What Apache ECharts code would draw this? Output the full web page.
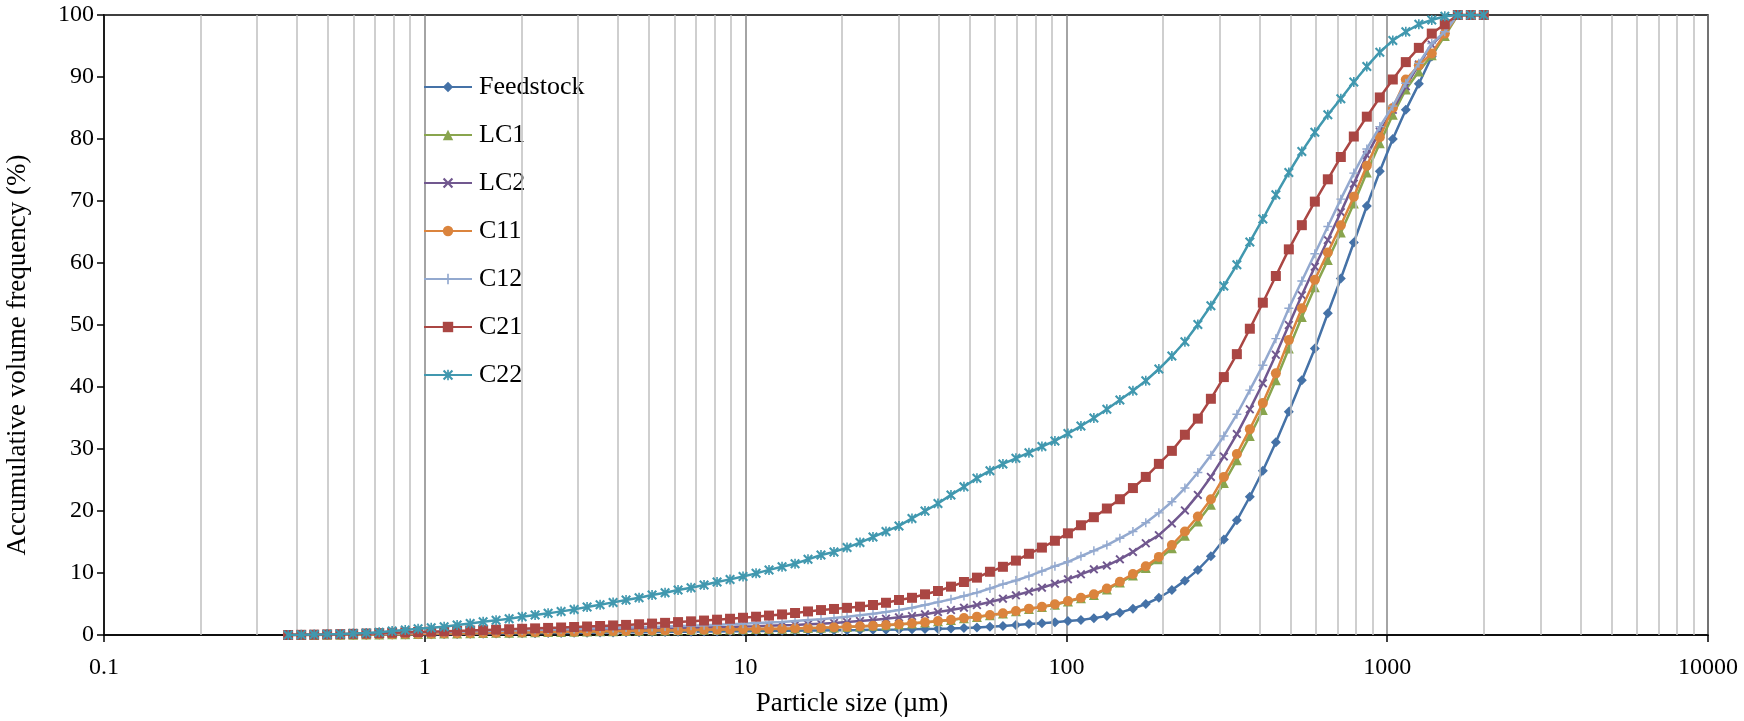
<!DOCTYPE html>
<html>
<head>
<meta charset="utf-8">
<title>Particle size distribution</title>
<script src="https://cdn.jsdelivr.net/npm/echarts@6/dist/echarts.min.js"></script>
<style>
  html, body { margin: 0; padding: 0; background: #fff; }
  #chart { width: 1744px; height: 721px; }
</style>
</head>
<body>
<div id="chart"></div>
<script>
// Channel sizes of the particle size analyser (µm)
const sizes = [
  0.375, 0.412, 0.452, 0.496, 0.545, 0.598, 0.657, 0.721, 0.791, 0.869,
  0.953, 1.047, 1.149, 1.261, 1.385, 1.520, 1.668, 1.832, 2.011, 2.207,
  2.423, 2.660, 2.920, 3.205, 3.519, 3.863, 4.240, 4.655, 5.110, 5.610,
  6.158, 6.760, 7.421, 8.147, 8.943, 9.817, 10.78, 11.83, 12.99, 14.26,
  15.65, 17.18, 18.86, 20.71, 22.73, 24.95, 27.39, 30.07, 33.01, 36.24,
  39.78, 43.67, 47.94, 52.62, 57.77, 63.41, 69.61, 76.42, 83.89, 92.09,
  101.1, 111.0, 121.8, 133.7, 146.8, 161.2, 176.8, 194.2, 213.2, 234.1,
  256.9, 282.1, 309.6, 339.9, 373.1, 409.6, 449.7, 493.6, 541.9, 594.9,
  653.0, 716.9, 786.9, 863.9, 948.3, 1041, 1143, 1255, 1377, 1512,
  1660, 1822, 2000
];

// Accumulative volume frequency (%) per sample
const feedstock = [
  0.00, 0.01, 0.02, 0.03, 0.04, 0.05, 0.06, 0.07, 0.08, 0.10,
  0.12, 0.14, 0.16, 0.18, 0.20, 0.22, 0.24, 0.26, 0.28, 0.30,
  0.32, 0.34, 0.36, 0.38, 0.40, 0.42, 0.44, 0.46, 0.48, 0.50,
  0.52, 0.54, 0.56, 0.58, 0.60, 0.62, 0.64, 0.66, 0.68, 0.70,
  0.72, 0.74, 0.76, 0.78, 0.80, 0.83, 0.86, 0.89, 0.93, 0.97,
  1.01, 1.06, 1.12, 1.20, 1.32, 1.45, 1.60, 1.76, 1.88, 2.04,
  2.24, 2.42, 2.72, 3.08, 3.60, 4.25, 5.00, 6.00, 7.26, 8.77,
  10.5, 12.7, 15.4, 18.5, 22.3, 26.5, 31.1, 36.0, 41.1, 46.2,
  51.9, 57.5, 63.3, 69.2, 74.8, 80.0, 84.7, 88.9, 93.3, 97.0,
  100, 100, 100
];
const lc1 = [
  0.00, 0.01, 0.02, 0.03, 0.04, 0.06, 0.08, 0.10, 0.12, 0.14,
  0.17, 0.20, 0.23, 0.26, 0.29, 0.32, 0.35, 0.38, 0.41, 0.44,
  0.47, 0.50, 0.53, 0.56, 0.59, 0.62, 0.65, 0.68, 0.71, 0.74,
  0.77, 0.80, 0.83, 0.86, 0.89, 0.92, 0.95, 0.98, 1.01, 1.06,
  1.11, 1.16, 1.22, 1.31, 1.38, 1.48, 1.58, 1.70, 1.85, 2.01,
  2.22, 2.43, 2.70, 2.92, 3.19, 3.46, 3.82, 4.19, 4.51, 4.88,
  5.40, 5.92, 6.46, 7.35, 8.45, 9.60, 10.8, 12.2, 14.0, 16.0,
  18.3, 21.0, 24.5, 28.2, 32.1, 36.3, 41.1, 46.2, 51.3, 56.1,
  60.5, 64.9, 69.6, 74.6, 79.3, 83.9, 88.0, 90.9, 93.5, 96.6,
  100, 100, 100
];
const lc2 = [
  0.00, 0.02, 0.04, 0.06, 0.09, 0.12, 0.15, 0.18, 0.22, 0.26,
  0.30, 0.34, 0.38, 0.42, 0.46, 0.50, 0.54, 0.58, 0.62, 0.66,
  0.70, 0.74, 0.78, 0.82, 0.86, 0.90, 0.94, 0.98, 1.02, 1.06,
  1.10, 1.15, 1.20, 1.25, 1.30, 1.36, 1.42, 1.49, 1.56, 1.61,
  1.72, 1.83, 1.94, 2.10, 2.26, 2.42, 2.63, 2.85, 3.06, 3.33,
  3.70, 4.03, 4.40, 4.84, 5.32, 5.86, 6.40, 7.00, 7.63, 8.28,
  8.98, 9.78, 10.6, 11.2, 12.2, 13.4, 14.8, 16.1, 18.0, 20.1,
  22.6, 25.5, 28.8, 32.4, 36.4, 40.6, 45.2, 50.0, 54.8, 59.4,
  63.7, 68.2, 72.8, 77.4, 81.2, 84.7, 88.5, 92.0, 95.2, 97.3,
  100, 100, 100
];
const c11 = [
  0.00, 0.01, 0.02, 0.04, 0.05, 0.07, 0.09, 0.11, 0.13, 0.15,
  0.18, 0.21, 0.24, 0.27, 0.30, 0.33, 0.36, 0.39, 0.42, 0.45,
  0.48, 0.51, 0.54, 0.57, 0.60, 0.63, 0.66, 0.69, 0.72, 0.75,
  0.78, 0.81, 0.84, 0.87, 0.90, 0.93, 0.96, 0.99, 1.02, 1.08,
  1.13, 1.18, 1.24, 1.34, 1.40, 1.50, 1.60, 1.72, 1.88, 2.04,
  2.26, 2.47, 2.74, 2.96, 3.23, 3.50, 3.87, 4.25, 4.57, 4.95,
  5.48, 6.00, 6.56, 7.50, 8.60, 9.84, 11.1, 12.6, 14.5, 16.7,
  19.1, 21.9, 25.5, 29.2, 33.2, 37.4, 42.2, 47.6, 52.7, 57.3,
  61.7, 66.1, 70.7, 75.7, 80.3, 85.0, 89.6, 91.9, 93.8, 97.0,
  100, 100, 100
];
const c12 = [
  0.00, 0.02, 0.05, 0.08, 0.11, 0.15, 0.19, 0.23, 0.28, 0.33,
  0.38, 0.43, 0.48, 0.53, 0.58, 0.63, 0.68, 0.73, 0.78, 0.83,
  0.88, 0.93, 0.98, 1.03, 1.08, 1.13, 1.19, 1.25, 1.31, 1.37,
  1.44, 1.51, 1.58, 1.66, 1.74, 1.83, 1.92, 2.01, 2.10, 2.26,
  2.42, 2.53, 2.74, 2.96, 3.17, 3.44, 3.70, 4.03, 4.40, 4.84,
  5.30, 5.75, 6.30, 6.83, 7.50, 8.20, 8.80, 9.50, 10.3, 11.1,
  11.8, 12.7, 13.6, 14.5, 15.6, 16.7, 18.1, 19.7, 21.5, 23.7,
  26.2, 29.0, 32.1, 35.6, 39.5, 43.5, 47.8, 52.7, 57.1, 61.5,
  65.9, 70.3, 74.5, 78.4, 82.0, 85.3, 89.0, 92.2, 95.4, 97.3,
  100, 100, 100
];
const c21 = [
  0.00, 0.03, 0.06, 0.10, 0.14, 0.19, 0.24, 0.30, 0.36, 0.42,
  0.48, 0.54, 0.60, 0.66, 0.72, 0.79, 0.86, 0.93, 1.00, 1.07,
  1.14, 1.21, 1.29, 1.37, 1.45, 1.54, 1.63, 1.73, 1.84, 1.96,
  2.08, 2.20, 2.33, 2.47, 2.62, 2.78, 2.95, 3.13, 3.32, 3.55,
  3.80, 4.02, 4.20, 4.38, 4.57, 4.84, 5.20, 5.65, 6.00, 6.56,
  7.10, 7.80, 8.55, 9.25, 10.2, 11.0, 12.0, 13.1, 14.1, 15.2,
  16.4, 17.7, 19.0, 20.4, 21.9, 23.7, 25.5, 27.6, 29.7, 32.3,
  34.9, 38.1, 41.6, 45.3, 49.4, 53.6, 57.9, 62.2, 66.1, 69.9,
  73.5, 77.1, 80.4, 83.6, 86.7, 89.6, 92.4, 94.7, 97.0, 98.5,
  100, 100, 100
];
const c22 = [
  0.02, 0.05, 0.09, 0.13, 0.18, 0.24, 0.31, 0.45, 0.64, 0.80,
  1.00, 1.17, 1.34, 1.60, 1.87, 2.14, 2.36, 2.63, 2.95, 3.22,
  3.49, 3.81, 4.13, 4.51, 4.88, 5.26, 5.64, 6.01, 6.44, 6.82,
  7.25, 7.63, 8.06, 8.54, 8.97, 9.45, 9.94, 10.5, 11.0, 11.5,
  12.2, 12.9, 13.4, 14.1, 14.9, 15.8, 16.7, 17.6, 18.8, 20.0,
  21.2, 22.6, 23.9, 25.3, 26.5, 27.6, 28.5, 29.4, 30.4, 31.3,
  32.5, 33.7, 35.0, 36.4, 37.9, 39.4, 41.0, 42.9, 45.0, 47.3,
  50.1, 53.1, 56.3, 59.7, 63.4, 67.1, 71.0, 74.6, 78.0, 81.1,
  83.9, 86.5, 89.2, 91.7, 94.0, 95.9, 97.3, 98.5, 99.2, 99.8,
  100, 100, 100
];

const seriesNames = ['Feedstock', 'LC1', 'LC2', 'C11', 'C12', 'C21', 'C22'];
const xTickLabels = ['0.1', '1', '10', '100', '1000', '10000'];

const FONT = '"Liberation Serif", "Times New Roman", serif';

// Marker shapes: x, plus and asterisk drawn as filled outlines
const X_MARK = 'path://M0,1.5 L1.5,0 L5,3.5 L8.5,0 L10,1.5 L6.5,5 L10,8.5 L8.5,10 L5,6.5 L1.5,10 L0,8.5 L3.5,5 Z';
const PLUS_MARK = 'path://M4.2,0 H5.8 V4.2 H10 V5.8 H5.8 V10 H4.2 V5.8 H0 V4.2 H4.2 Z';
const STAR_MARK = 'path://M0,1.5 L1.5,0 L5,3.5 L8.5,0 L10,1.5 L6.5,5 L10,8.5 L8.5,10 L5,6.5 L1.5,10 L0,8.5 L3.5,5 Z M4.2,0 H5.8 V10 H4.2 Z';

const styles = [
  { data: feedstock, color: '#4572A7', symbol: 'diamond', size: 10 },
  { data: lc1, color: '#89A54E', symbol: 'triangle', size: 10 },
  { data: lc2, color: '#71588F', symbol: X_MARK, size: 9 },
  { data: c11, color: '#DB843D', symbol: 'circle', size: 10 },
  { data: c12, color: '#93A9CF', symbol: PLUS_MARK, size: 9 },
  { data: c21, color: '#AA4643', symbol: 'rect', size: 10 },
  { data: c22, color: '#4198AF', symbol: STAR_MARK, size: 10 }
];

// Light minor gridlines at 2..9 within each decade
const minorLines = [];
[0.1, 1, 10, 100, 1000].forEach(function (d) {
  for (let m = 2; m <= 9; m++) minorLines.push({ xAxis: m * d });
});

const series = [{
  name: '__grid',
  type: 'line',
  data: [],
  z: 0,
  silent: true,
  markLine: {
    silent: true,
    symbol: 'none',
    label: { show: false },
    animation: false,
    lineStyle: { color: '#BFBFBF', width: 1.5, type: 'solid' },
    data: minorLines
  }
}];

styles.forEach(function (s, i) {
  series.push({
    name: seriesNames[i],
    type: 'line',
    z: 3 + i,
    data: sizes.map(function (x, k) { return [x, s.data[k]]; }),
    symbol: s.symbol,
    symbolSize: s.size,
    showSymbol: true,
    showAllSymbol: true,
    lineStyle: { color: s.color, width: 2.5 },
    itemStyle: { color: s.color },
    emphasis: { disabled: true }
  });
});

const chart = echarts.init(document.getElementById('chart'), null, { renderer: 'canvas' });
chart.setOption({
  animation: false,
  backgroundColor: '#ffffff',
  textStyle: { fontFamily: FONT, color: '#000' },
  grid: {
    left: 104, right: 36, top: 15, bottom: 86,
    show: true, borderColor: '#000', borderWidth: 1.5, backgroundColor: 'transparent'
  },
  legend: {
    data: seriesNames,
    orient: 'vertical',
    left: 423,
    top: 74,
    padding: 0,
    itemWidth: 48,
    itemHeight: 13,
    itemGap: 22,
    textStyle: { fontFamily: FONT, fontSize: 26, color: '#000', lineHeight: 26, padding: [0, 0, 0, 2] },
    selectedMode: false
  },
  xAxis: {
    type: 'log',
    logBase: 10,
    min: 0.1,
    max: 10000,
    splitNumber: 5,
    axisLine: { show: true, onZero: false, lineStyle: { color: '#000', width: 1.5 } },
    axisTick: { show: true, inside: false, length: 7, lineStyle: { color: '#000', width: 1.5 } },
    axisLabel: {
      fontFamily: FONT, fontSize: 24, color: '#000', margin: 21,
      formatter: function (v) {
        const idx = Math.round(Math.log10(v)) + 1;
        return xTickLabels[idx] !== undefined ? xTickLabels[idx] : '';
      }
    },
    splitLine: { show: true, lineStyle: { color: '#868686', width: 1.5 } },
    minorTick: { show: false },
    minorSplitLine: { show: false }
  },
  yAxis: {
    type: 'value',
    min: 0,
    max: 100,
    interval: 10,
    axisLine: { show: true, lineStyle: { color: '#000', width: 1.5 } },
    axisTick: { show: true, inside: false, length: 7, lineStyle: { color: '#000', width: 1.5 } },
    axisLabel: { fontFamily: FONT, fontSize: 24, color: '#000', margin: 10 },
    splitLine: { show: false }
  },
  graphic: [
    {
      type: 'text',
      x: 852, y: 704,
      style: {
        text: 'Particle size (µm)',
        font: '27px ' + FONT,
        fill: '#000',
        align: 'center',
        verticalAlign: 'middle'
      }
    },
    {
      type: 'text',
      x: 18, y: 355,
      rotation: Math.PI / 2,
      style: {
        text: 'Accumulative volume frequency (%)',
        font: '27px ' + FONT,
        fill: '#000',
        align: 'center',
        verticalAlign: 'middle'
      }
    }
  ],
  series: series
});
</script>
</body>
</html>
